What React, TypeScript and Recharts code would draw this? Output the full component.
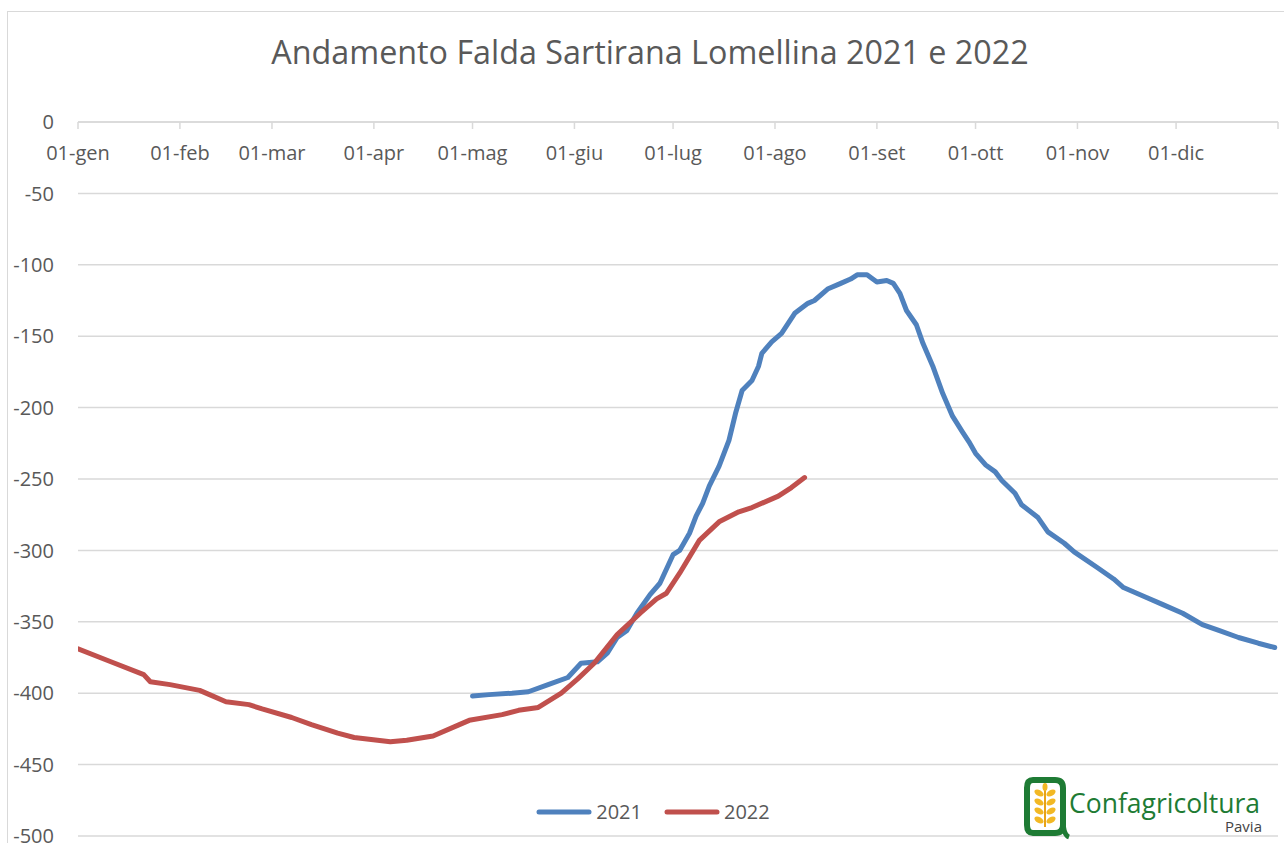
import React from "react"
import { LineChart, Line, XAxis, YAxis, CartesianGrid, Legend } from "recharts"

// day of year (0 = 01-gen) for the month ticks
const monthTicks = [0, 31, 59, 90, 120, 151, 181, 212, 243, 273, 304, 334, 365]
const monthLabels = [
  "01-gen", "01-feb", "01-mar", "01-apr", "01-mag", "01-giu",
  "01-lug", "01-ago", "01-set", "01-ott", "01-nov", "01-dic", "",
]
const levelTicks = [0, -50, -100, -150, -200, -250, -300, -350, -400, -450, -500]

const days2021 = [
  120, 125, 132, 137, 143, 149, 153, 158, 161, 164, 167, 170, 174, 177, 181, 183,
  186, 188, 190, 192, 195, 198, 200, 202, 205, 207, 208, 211, 214, 218, 222, 224,
  228, 232, 235, 237, 240, 243, 246, 248, 250, 252, 255, 257, 260, 263, 266, 269,
  271, 273, 276, 279, 281, 285, 287, 292, 295, 300, 303, 310, 315, 318, 325, 330,
  336, 342, 347, 353, 359, 364,
]
const values2021 = [
  -402, -401, -400, -399, -394, -389, -379, -378, -372, -361, -356, -344, -331, -323, -303, -300,
  -288, -276, -267, -255, -241, -223, -204, -188, -181, -171, -162, -154, -148, -134, -127, -125,
  -117, -113, -110, -107, -107, -112, -111, -113, -120, -132, -142, -155, -171, -190, -206, -217,
  -224, -232, -240, -245, -251, -260, -268, -277, -287, -295, -301, -312, -320, -326, -333, -338,
  -344, -352, -356, -361, -365, -368,
]

const days2022 = [
  0, 10, 20, 22, 28, 37, 40, 45, 52, 56, 65, 71, 79, 84, 95, 100, 108, 116, 119,
  129, 134, 140, 147, 152, 157, 164, 171, 176, 179, 183, 189, 195, 201, 205, 213,
  217, 221,
]
const values2022 = [
  -369, -378, -387, -392, -394, -398, -401, -406, -408, -411, -417, -422, -428, -431, -434, -433, -430, -422, -419,
  -415, -412, -410, -400, -390, -379, -359, -344, -334, -330, -316, -293, -280, -273, -270, -262,
  -256, -249,
]

const BLUE = "#4F81BD"
const RED = "#C0504D"
const TEXT = "#595959"
const GRID = "#D9D9D9"
const FONT = "'Open Sans', sans-serif"

const data2021 = days2021.map((day, i) => ({ day, value: values2021[i] }))
const data2022 = days2022.map((day, i) => ({ day, value: values2022[i] }))

const series = [
  { name: "2021", color: BLUE },
  { name: "2022", color: RED },
]

function LegendContent() {
  return (
    <div style={{ display: "flex", justifyContent: "center", gap: 22, fontFamily: FONT, fontSize: 20, color: TEXT }}>
      {series.map((s) => (
        <div key={s.name} style={{ display: "flex", alignItems: "center", gap: 4 }}>
          <svg width={56} height={10}>
            <line x1={3} y1={5} x2={53} y2={5} stroke={s.color} strokeWidth={5} strokeLinecap="round" />
          </svg>
          <span>{s.name}</span>
        </div>
      ))}
    </div>
  )
}

function Logo() {
  return (
    <div style={{ position: "absolute", left: 1022, top: 774, width: 262, height: 69 }}>
      <svg width={50} height={66} style={{ position: "absolute", left: 0, top: 0 }}>
        <path
          d="M11 6 H33 Q41 6 41 14 V51 Q41 59 33 59 H11 Q5 59 5 51 V14 Q5 6 11 6 Z"
          fill="#fff"
          stroke="#1E7B34"
          strokeWidth={6}
        />
        <path d="M41 44 Q41 61 47 63" fill="none" stroke="#1E7B34" strokeWidth={5} />
        <line x1={23} y1={14} x2={23} y2={53} stroke="#E8A317" strokeWidth={2} />
        {[19, 28, 37, 46].map((y) => (
          <g key={y}>
            <ellipse cx={17} cy={y} rx={5} ry={3} fill="#F2B824" transform={`rotate(30 17 ${y})`} />
            <ellipse cx={29} cy={y} rx={5} ry={3} fill="#F2B824" transform={`rotate(-30 29 ${y})`} />
          </g>
        ))}
        <ellipse cx={23} cy={13} rx={2.5} ry={4} fill="#F2B824" />
      </svg>
      <div style={{ position: "absolute", left: 47, top: 16, fontFamily: FONT, fontSize: 26.5, color: "#1E7B34", lineHeight: 1 }}>
        Confagricoltura
      </div>
      <div style={{ position: "absolute", left: 203, top: 45, fontFamily: FONT, fontSize: 15, color: "#444", lineHeight: 1 }}>
        Pavia
      </div>
    </div>
  )
}

export default function App() {
  return (
    <div style={{ position: "fixed", inset: 0, overflow: "hidden", background: "#fff" }}>
      <div
        style={{
          position: "absolute",
          left: 7,
          top: 11,
          width: 1400,
          height: 900,
          borderLeft: `1.5px solid ${GRID}`,
          borderTop: `1.5px solid ${GRID}`,
        }}
      />
      <div
        style={{
          position: "absolute",
          left: 8,
          top: 32,
          width: 1284,
          textAlign: "center",
          fontFamily: FONT,
          fontSize: 32.3,
          color: TEXT,
          lineHeight: 1.2,
        }}
      >
        Andamento Falda Sartirana Lomellina 2021 e 2022
      </div>
      <div style={{ position: "absolute", left: 8, top: 10 }}>
        <LineChart width={1290} height={880} margin={{ top: 112, right: 20, bottom: 24, left: 0 }}>
          <CartesianGrid horizontal vertical={false} stroke={GRID} strokeWidth={1.5} />
          <XAxis
            type="number"
            dataKey="day"
            domain={[0, 365]}
            ticks={monthTicks}
            interval={0}
            orientation="top"
            mirror
            allowDataOverflow
            tickFormatter={(v: number) => monthLabels[monthTicks.indexOf(v)] ?? ""}
            axisLine={{ stroke: GRID, strokeWidth: 1.5 }}
            tickLine={{ stroke: GRID, strokeWidth: 1.5 }}
            tickSize={7}
            tickMargin={17}
            tick={{ fill: TEXT, fontSize: 20, fontFamily: FONT }}
          />
          <YAxis
            type="number"
            domain={[-500, 0]}
            ticks={levelTicks}
            interval={0}
            width={70}
            axisLine={false}
            tickLine={false}
            tickSize={0}
            tickMargin={24}
            tick={{ fill: TEXT, fontSize: 20, fontFamily: FONT }}
          />
          <Line
            data={data2021}
            dataKey="value"
            name="2021"
            type="linear"
            stroke={BLUE}
            strokeWidth={5}
            strokeLinecap="round"
            strokeLinejoin="round"
            dot={false}
            activeDot={false}
            isAnimationActive={false}
          />
          <Line
            data={data2022}
            dataKey="value"
            name="2022"
            type="linear"
            stroke={RED}
            strokeWidth={5}
            strokeLinecap="round"
            strokeLinejoin="round"
            dot={false}
            activeDot={false}
            isAnimationActive={false}
          />
          <Legend
            content={<LegendContent />}
            wrapperStyle={{ position: "absolute", top: 788, left: 0, width: 1290, height: 30 }}
          />
        </LineChart>
      </div>
      <Logo />
    </div>
  )
}
